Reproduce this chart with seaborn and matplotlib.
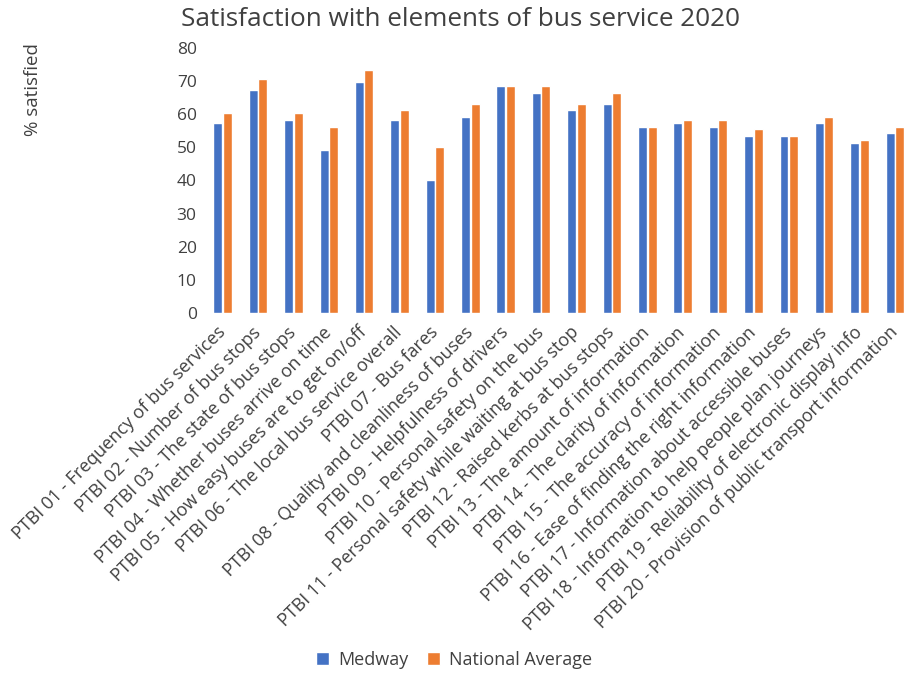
import matplotlib
matplotlib.use("Agg")
import matplotlib.pyplot as plt
import seaborn as sns
import pandas as pd

categories = [
    "PTBI 01 - Frequency of bus services",
    "PTBI 02 - Number of bus stops",
    "PTBI 03 - The state of bus stops",
    "PTBI 04 - Whether buses arrive on time",
    "PTBI 05 - How easy buses are to get on/off",
    "PTBI 06 - The local bus service overall",
    "PTBI 07 - Bus fares",
    "PTBI 08 - Quality and cleanliness of buses",
    "PTBI 09 - Helpfulness of drivers",
    "PTBI 10 - Personal safety on the bus",
    "PTBI 11 - Personal safety while waiting at bus stop",
    "PTBI 12 - Raised kerbs at bus stops",
    "PTBI 13 - The amount of information",
    "PTBI 14 - The clarity of information",
    "PTBI 15 - The accuracy of information",
    "PTBI 16 - Ease of finding the right information",
    "PTBI 17 - Information about accessible buses",
    "PTBI 18 - Information to help people plan journeys",
    "PTBI 19 - Reliability of electronic display info",
    "PTBI 20 - Provision of public transport information",
]
medway = [57.5, 67.2, 58.4, 49.3, 69.6, 58.4, 40.2, 59.3, 68.4, 66.3,
          61.4, 63.2, 56.3, 57.5, 56.3, 53.3, 53.3, 57.5, 51.4, 54.2]
national = [60.5, 70.5, 60.5, 56.3, 73.5, 61.4, 50.2, 63.2, 68.4, 68.4,
            63.2, 66.3, 56.3, 58.4, 58.4, 55.4, 53.3, 59.3, 52.3, 56.3]
series_names = ["Medway", "National Average"]
yticks = [0, 10, 20, 30, 40, 50, 60, 70, 80]

df = pd.DataFrame({
    "category": categories * 2,
    "value": medway + national,
    "series": [series_names[0]] * len(categories) + [series_names[1]] * len(categories),
})

sns.set_theme(style="white")
plt.rcParams["font.family"] = ["Open Sans", "DejaVu Sans"]
text_color = "#404040"

fig = plt.figure(figsize=(9.05, 6.75), dpi=100)
W, H = 905, 675
ax = fig.add_axes([205 / W, 1 - 313 / H, 707.6 / W, (313 - 48) / H])

sns.barplot(data=df, x="category", y="value", hue="series", order=categories,
            hue_order=series_names, palette=["#4472C4", "#ED7D31"],
            width=0.54, gap=0.06, saturation=1, ax=ax, legend=True)

ax.set_xlim(-0.5, len(categories) - 0.5)
ax.set_ylim(0, 80)
ax.set_yticks(yticks)
ax.set_yticklabels([str(t) for t in yticks], fontsize=12.5, color=text_color)
ax.set_xticks(range(len(categories)))
ax.set_xticklabels(categories, rotation=45, ha="right", va="center",
                   rotation_mode="anchor", fontsize=13, color=text_color)
ax.tick_params(axis="both", length=0)
ax.tick_params(axis="y", pad=6)
ax.tick_params(axis="x", pad=12)
ax.set_xlabel("")
ax.set_ylabel("")
for s in ax.spines.values():
    s.set_visible(False)
ax.grid(False)

handles, labels = ax.get_legend_handles_labels()
ax.get_legend().remove()
fig.legend(handles, labels, loc="center", bbox_to_anchor=(454 / W, 1 - 660 / H),
           ncol=2, frameon=False, fontsize=13, handlelength=0.75, handleheight=0.75,
           handletextpad=0.5, columnspacing=1.0, labelcolor=text_color)

fig.text(460 / W, 1 - 19 / H, "Satisfaction with elements of bus service 2020",
         ha="center", va="center", fontsize=18.8, color=text_color)
fig.text(33 / W, 1 - 90 / H, "% satisfied", rotation=90, ha="center", va="center",
         fontsize=13.5, color=text_color)

fig.savefig("out.png", dpi=100)
